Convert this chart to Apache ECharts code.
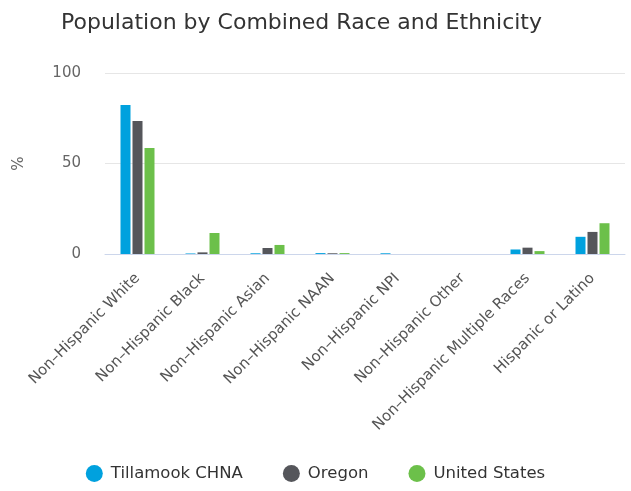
<!DOCTYPE html>
<html><head><meta charset="utf-8">
<script src="https://cdn.jsdelivr.net/npm/echarts@6/dist/echarts.min.js"></script>
<style>html,body{margin:0;padding:0;background:#fff}#c{width:631px;height:491px}</style>
</head><body><div id="c"></div>
<script>
const categories = ["Non\u2013Hispanic White","Non\u2013Hispanic Black","Non\u2013Hispanic Asian","Non\u2013Hispanic NAAN","Non\u2013Hispanic NPI","Non\u2013Hispanic Other","Non\u2013Hispanic Multiple Races","Hispanic or Latino"];
const tillamook = [82.3, 0.3, 0.4, 0.5, 0.4, 0, 2.5, 9.5];
const oregon = [73.5, 0.9, 3.3, 0.4, 0, 0, 3.5, 12.2];
const unitedStates = [58.6, 11.6, 5.0, 0.5, 0, 0, 1.6, 17.0];
const yTicks = [0, 50, 100];

const chart = echarts.init(document.getElementById('c'));
const font = "DejaVu Sans";
const mk = (name, data, color) => ({
  name, type: 'bar', data, barWidth: 10, barGap: '20%',
  itemStyle: { color }
});
chart.setOption({
  animation: false,
  title: { text: 'Population by Combined Race and Ethnicity', left: 56, top: 7,
    textStyle: { fontFamily: font, fontSize: 22, fontWeight: 'normal', color: '#333' } },
  legend: { bottom: 4, left: 'center', icon: 'circle', itemWidth: 17, itemHeight: 17, itemGap: 40,
    textStyle: { fontFamily: font, fontSize: 16.5, color: '#333', padding: [0, 0, 0, 3] } },
  grid: { left: 105, right: 6, top: 73, bottom: 237 },
  xAxis: { type: 'category', data: categories,
    axisLine: { lineStyle: { color: '#ccd6eb' } }, axisTick: { show: false },
    axisLabel: { rotate: 45, interval: 0, fontFamily: font, fontSize: 15, color: '#555', margin: 22 } },
  yAxis: { type: 'value', min: 0, max: 100, interval: 50, name: '%', nameLocation: 'middle', nameGap: 78,
    nameRotate: 90,
    nameTextStyle: { fontFamily: font, fontSize: 15, color: '#666' },
    axisLabel: { fontFamily: font, fontSize: 15, color: '#666', margin: 24 },
    splitLine: { lineStyle: { color: '#e6e6e6' } } },
  series: [mk('Tillamook CHNA', tillamook, '#00a1de'), mk('Oregon', oregon, '#55565b'), mk('United States', unitedStates, '#6cc04a')]
});
</script></body></html>
